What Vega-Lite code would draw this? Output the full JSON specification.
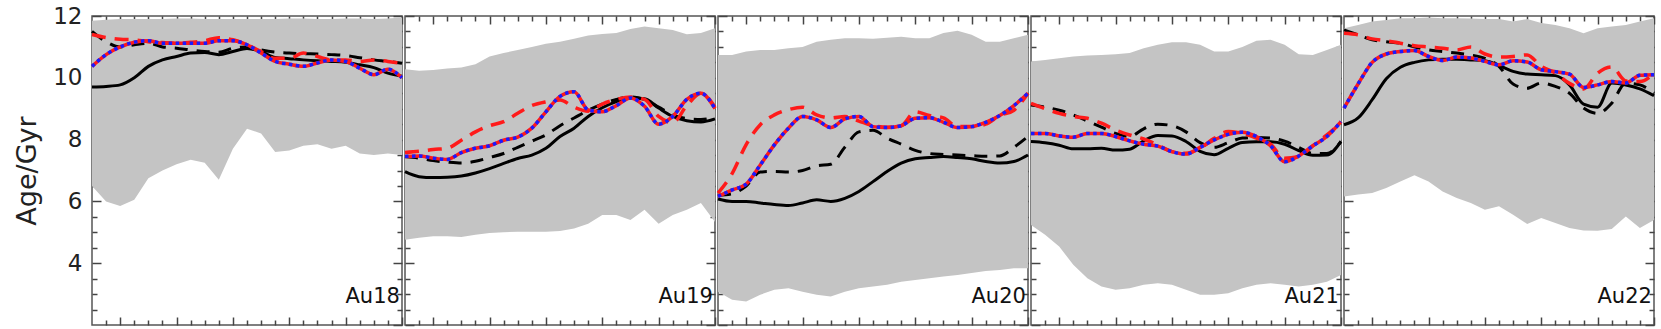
{
"$schema": "https://vega.github.io/schema/vega-lite/v6.json",
"padding": {"left": 12, "top": 4, "right": 0, "bottom": 0},
"background": "white",
"spacing": 3,
"bounds": "flush",
"data": {"values": [
{"p":"Au18","x":0,"lo":6.5,"hi":11.85,"bs":9.7,"bd":11.5,"rd":11.4,"rb":10.37},
{"p":"Au18","x":1,"lo":6.0,"hi":11.88,"bs":9.72,"bd":11.17,"rd":11.3,"rb":10.75},
{"p":"Au18","x":2,"lo":5.85,"hi":11.9,"bs":9.77,"bd":11.0,"rd":11.25,"rb":11.0},
{"p":"Au18","x":3,"lo":6.05,"hi":11.9,"bs":10.0,"bd":11.07,"rd":11.23,"rb":11.15},
{"p":"Au18","x":4,"lo":6.75,"hi":11.9,"bs":10.37,"bd":11.12,"rd":11.17,"rb":11.2},
{"p":"Au18","x":5,"lo":7.0,"hi":11.9,"bs":10.58,"bd":11.0,"rd":11.14,"rb":11.12},
{"p":"Au18","x":6,"lo":7.2,"hi":11.92,"bs":10.69,"bd":10.96,"rd":11.12,"rb":11.12},
{"p":"Au18","x":7,"lo":7.35,"hi":11.92,"bs":10.8,"bd":10.9,"rd":11.15,"rb":11.12},
{"p":"Au18","x":8,"lo":7.25,"hi":11.9,"bs":10.82,"bd":10.85,"rd":11.2,"rb":11.12},
{"p":"Au18","x":9,"lo":6.7,"hi":11.9,"bs":10.75,"bd":10.83,"rd":11.3,"rb":11.2},
{"p":"Au18","x":10,"lo":7.7,"hi":11.9,"bs":10.85,"bd":10.96,"rd":11.23,"rb":11.2},
{"p":"Au18","x":11,"lo":8.35,"hi":11.9,"bs":10.95,"bd":11.0,"rd":11.07,"rb":11.07},
{"p":"Au18","x":12,"lo":8.2,"hi":11.9,"bs":10.85,"bd":10.9,"rd":10.85,"rb":10.8},
{"p":"Au18","x":13,"lo":7.6,"hi":11.9,"bs":10.66,"bd":10.83,"rd":10.63,"rb":10.53},
{"p":"Au18","x":14,"lo":7.65,"hi":11.92,"bs":10.62,"bd":10.8,"rd":10.63,"rb":10.44},
{"p":"Au18","x":15,"lo":7.8,"hi":11.92,"bs":10.58,"bd":10.78,"rd":10.8,"rb":10.37},
{"p":"Au18","x":16,"lo":7.85,"hi":11.9,"bs":10.55,"bd":10.77,"rd":10.69,"rb":10.48},
{"p":"Au18","x":17,"lo":7.7,"hi":11.9,"bs":10.53,"bd":10.75,"rd":10.58,"rb":10.58},
{"p":"Au18","x":18,"lo":7.8,"hi":11.92,"bs":10.5,"bd":10.72,"rd":10.58,"rb":10.53},
{"p":"Au18","x":19,"lo":7.55,"hi":11.92,"bs":10.42,"bd":10.65,"rd":10.53,"rb":10.31},
{"p":"Au18","x":20,"lo":7.5,"hi":11.9,"bs":10.33,"bd":10.58,"rd":10.58,"rb":10.1},
{"p":"Au18","x":21,"lo":7.55,"hi":11.92,"bs":10.15,"bd":10.53,"rd":10.53,"rb":10.28},
{"p":"Au18","x":22,"lo":7.5,"hi":11.95,"bs":10.05,"bd":10.47,"rd":10.47,"rb":10.0},
{"p":"Au19","x":0,"lo":4.76,"hi":10.28,"bs":6.96,"bd":7.45,"rd":7.58,"rb":7.45},
{"p":"Au19","x":1,"lo":4.82,"hi":10.23,"bs":6.8,"bd":7.4,"rd":7.62,"rb":7.47},
{"p":"Au19","x":2,"lo":4.87,"hi":10.25,"bs":6.77,"bd":7.32,"rd":7.68,"rb":7.4},
{"p":"Au19","x":3,"lo":4.87,"hi":10.3,"bs":6.78,"bd":7.27,"rd":7.72,"rb":7.36},
{"p":"Au19","x":4,"lo":4.85,"hi":10.33,"bs":6.82,"bd":7.24,"rd":7.98,"rb":7.58},
{"p":"Au19","x":5,"lo":4.92,"hi":10.44,"bs":6.92,"bd":7.3,"rd":8.25,"rb":7.72},
{"p":"Au19","x":6,"lo":4.98,"hi":10.69,"bs":7.06,"bd":7.42,"rd":8.45,"rb":7.8},
{"p":"Au19","x":7,"lo":5.0,"hi":10.8,"bs":7.23,"bd":7.55,"rd":8.58,"rb":7.98},
{"p":"Au19","x":8,"lo":5.02,"hi":10.9,"bs":7.39,"bd":7.75,"rd":8.85,"rb":8.08},
{"p":"Au19","x":9,"lo":5.02,"hi":11.0,"bs":7.5,"bd":7.95,"rd":9.1,"rb":8.37},
{"p":"Au19","x":10,"lo":5.02,"hi":11.1,"bs":7.72,"bd":8.15,"rd":9.22,"rb":8.9},
{"p":"Au19","x":11,"lo":5.04,"hi":11.17,"bs":8.1,"bd":8.45,"rd":9.28,"rb":9.4},
{"p":"Au19","x":12,"lo":5.12,"hi":11.26,"bs":8.37,"bd":8.7,"rd":9.05,"rb":9.55},
{"p":"Au19","x":13,"lo":5.28,"hi":11.37,"bs":8.75,"bd":8.95,"rd":8.92,"rb":8.96},
{"p":"Au19","x":14,"lo":5.56,"hi":11.42,"bs":9.03,"bd":9.15,"rd":9.15,"rb":8.9},
{"p":"Au19","x":15,"lo":5.56,"hi":11.45,"bs":9.23,"bd":9.3,"rd":9.3,"rb":9.1},
{"p":"Au19","x":16,"lo":5.4,"hi":11.58,"bs":9.34,"bd":9.38,"rd":9.38,"rb":9.35},
{"p":"Au19","x":17,"lo":5.73,"hi":11.66,"bs":9.32,"bd":9.3,"rd":9.3,"rb":9.08},
{"p":"Au19","x":18,"lo":5.28,"hi":11.6,"bs":9.02,"bd":9.05,"rd":8.75,"rb":8.5},
{"p":"Au19","x":19,"lo":5.56,"hi":11.55,"bs":8.75,"bd":8.8,"rd":8.55,"rb":8.75},
{"p":"Au19","x":20,"lo":5.73,"hi":11.41,"bs":8.61,"bd":8.68,"rd":9.1,"rb":9.3},
{"p":"Au19","x":21,"lo":5.95,"hi":11.45,"bs":8.57,"bd":8.65,"rd":9.5,"rb":9.5},
{"p":"Au19","x":22,"lo":5.33,"hi":11.6,"bs":8.67,"bd":8.72,"rd":9.05,"rb":9.0},
{"p":"Au20","x":0,"lo":3.08,"hi":10.74,"bs":6.08,"bd":6.2,"rd":6.27,"rb":6.16},
{"p":"Au20","x":1,"lo":2.82,"hi":10.74,"bs":6.0,"bd":6.25,"rd":6.9,"rb":6.37},
{"p":"Au20","x":2,"lo":2.76,"hi":10.85,"bs":6.0,"bd":6.5,"rd":7.84,"rb":6.56},
{"p":"Au20","x":3,"lo":2.98,"hi":10.9,"bs":5.95,"bd":6.95,"rd":8.48,"rb":7.18},
{"p":"Au20","x":4,"lo":3.14,"hi":10.9,"bs":5.9,"bd":6.97,"rd":8.8,"rb":7.83},
{"p":"Au20","x":5,"lo":3.19,"hi":10.96,"bs":5.87,"bd":6.95,"rd":8.97,"rb":8.37},
{"p":"Au20","x":6,"lo":3.08,"hi":11.0,"bs":5.95,"bd":7.0,"rd":9.05,"rb":8.75},
{"p":"Au20","x":7,"lo":2.98,"hi":11.17,"bs":6.05,"bd":7.15,"rd":8.8,"rb":8.64},
{"p":"Au20","x":8,"lo":2.92,"hi":11.23,"bs":6.0,"bd":7.2,"rd":8.7,"rb":8.39},
{"p":"Au20","x":9,"lo":3.08,"hi":11.28,"bs":6.1,"bd":7.75,"rd":8.75,"rb":8.67},
{"p":"Au20","x":10,"lo":3.19,"hi":11.28,"bs":6.32,"bd":8.25,"rd":8.6,"rb":8.75},
{"p":"Au20","x":11,"lo":3.25,"hi":11.26,"bs":6.64,"bd":8.3,"rd":8.45,"rb":8.42},
{"p":"Au20","x":12,"lo":3.3,"hi":11.3,"bs":6.97,"bd":8.05,"rd":8.4,"rb":8.39},
{"p":"Au20","x":13,"lo":3.4,"hi":11.33,"bs":7.24,"bd":7.85,"rd":8.45,"rb":8.45},
{"p":"Au20","x":14,"lo":3.46,"hi":11.28,"bs":7.38,"bd":7.65,"rd":8.9,"rb":8.69},
{"p":"Au20","x":15,"lo":3.51,"hi":11.28,"bs":7.42,"bd":7.55,"rd":8.78,"rb":8.71},
{"p":"Au20","x":16,"lo":3.57,"hi":11.45,"bs":7.45,"bd":7.52,"rd":8.7,"rb":8.56},
{"p":"Au20","x":17,"lo":3.62,"hi":11.52,"bs":7.42,"bd":7.5,"rd":8.42,"rb":8.39},
{"p":"Au20","x":18,"lo":3.68,"hi":11.39,"bs":7.38,"bd":7.48,"rd":8.42,"rb":8.42},
{"p":"Au20","x":19,"lo":3.75,"hi":11.17,"bs":7.29,"bd":7.46,"rd":8.5,"rb":8.56},
{"p":"Au20","x":20,"lo":3.78,"hi":11.17,"bs":7.24,"bd":7.47,"rd":8.78,"rb":8.78},
{"p":"Au20","x":21,"lo":3.84,"hi":11.28,"bs":7.29,"bd":7.75,"rd":8.95,"rb":9.1},
{"p":"Au20","x":22,"lo":3.84,"hi":11.39,"bs":7.5,"bd":8.1,"rd":9.5,"rb":9.5},
{"p":"Au21","x":0,"lo":5.24,"hi":10.53,"bs":7.94,"bd":9.12,"rd":9.17,"rb":8.2},
{"p":"Au21","x":1,"lo":4.92,"hi":10.58,"bs":7.9,"bd":9.05,"rd":9.0,"rb":8.2},
{"p":"Au21","x":2,"lo":4.54,"hi":10.63,"bs":7.82,"bd":8.95,"rd":8.85,"rb":8.12},
{"p":"Au21","x":3,"lo":3.95,"hi":10.69,"bs":7.7,"bd":8.8,"rd":8.75,"rb":8.08},
{"p":"Au21","x":4,"lo":3.51,"hi":10.72,"bs":7.7,"bd":8.6,"rd":8.69,"rb":8.2},
{"p":"Au21","x":5,"lo":3.25,"hi":10.74,"bs":7.72,"bd":8.4,"rd":8.53,"rb":8.2},
{"p":"Au21","x":6,"lo":3.14,"hi":10.76,"bs":7.66,"bd":8.2,"rd":8.31,"rb":8.1},
{"p":"Au21","x":7,"lo":3.19,"hi":10.8,"bs":7.69,"bd":8.1,"rd":8.15,"rb":7.96},
{"p":"Au21","x":8,"lo":3.3,"hi":10.96,"bs":7.96,"bd":8.35,"rd":8.02,"rb":7.85},
{"p":"Au21","x":9,"lo":3.35,"hi":11.07,"bs":8.13,"bd":8.5,"rd":7.83,"rb":7.79},
{"p":"Au21","x":10,"lo":3.3,"hi":11.15,"bs":8.12,"bd":8.45,"rd":7.61,"rb":7.61},
{"p":"Au21","x":11,"lo":3.14,"hi":11.15,"bs":7.94,"bd":8.25,"rd":7.56,"rb":7.53},
{"p":"Au21","x":12,"lo":2.98,"hi":11.07,"bs":7.62,"bd":7.9,"rd":7.72,"rb":7.75},
{"p":"Au21","x":13,"lo":2.98,"hi":10.85,"bs":7.51,"bd":7.75,"rd":8.04,"rb":7.99},
{"p":"Au21","x":14,"lo":3.03,"hi":10.85,"bs":7.72,"bd":7.9,"rd":8.26,"rb":8.17},
{"p":"Au21","x":15,"lo":3.19,"hi":11.0,"bs":7.91,"bd":8.05,"rd":8.2,"rb":8.24},
{"p":"Au21","x":16,"lo":3.3,"hi":11.2,"bs":7.93,"bd":8.07,"rd":8.05,"rb":8.1},
{"p":"Au21","x":17,"lo":3.35,"hi":11.23,"bs":7.93,"bd":8.05,"rd":7.85,"rb":7.8},
{"p":"Au21","x":18,"lo":3.3,"hi":11.07,"bs":7.85,"bd":7.95,"rd":7.4,"rb":7.28},
{"p":"Au21","x":19,"lo":3.25,"hi":10.76,"bs":7.64,"bd":7.75,"rd":7.45,"rb":7.47},
{"p":"Au21","x":20,"lo":3.3,"hi":10.74,"bs":7.49,"bd":7.55,"rd":7.8,"rb":7.8},
{"p":"Au21","x":21,"lo":3.4,"hi":10.9,"bs":7.5,"bd":7.55,"rd":8.15,"rb":8.1},
{"p":"Au21","x":22,"lo":3.62,"hi":11.07,"bs":7.94,"bd":7.94,"rd":8.55,"rb":8.58},
{"p":"Au22","x":0,"lo":6.16,"hi":11.6,"bs":8.48,"bd":11.55,"rd":11.44,"rb":9.02},
{"p":"Au22","x":1,"lo":6.22,"hi":11.71,"bs":8.7,"bd":11.39,"rd":11.39,"rb":9.8},
{"p":"Au22","x":2,"lo":6.27,"hi":11.82,"bs":9.29,"bd":11.23,"rd":11.26,"rb":10.5},
{"p":"Au22","x":3,"lo":6.43,"hi":11.87,"bs":9.97,"bd":11.17,"rd":11.2,"rb":10.77},
{"p":"Au22","x":4,"lo":6.64,"hi":11.93,"bs":10.34,"bd":11.12,"rd":11.12,"rb":10.85},
{"p":"Au22","x":5,"lo":6.85,"hi":11.93,"bs":10.5,"bd":11.0,"rd":11.04,"rb":10.88},
{"p":"Au22","x":6,"lo":6.64,"hi":11.95,"bs":10.58,"bd":10.9,"rd":11.0,"rb":10.69},
{"p":"Au22","x":7,"lo":6.32,"hi":11.93,"bs":10.6,"bd":10.85,"rd":10.96,"rb":10.56},
{"p":"Au22","x":8,"lo":6.11,"hi":11.93,"bs":10.6,"bd":10.8,"rd":10.9,"rb":10.67},
{"p":"Au22","x":9,"lo":5.95,"hi":11.92,"bs":10.58,"bd":10.74,"rd":11.0,"rb":10.64},
{"p":"Au22","x":10,"lo":5.73,"hi":11.9,"bs":10.55,"bd":10.63,"rd":10.77,"rb":10.53},
{"p":"Au22","x":11,"lo":5.84,"hi":11.9,"bs":10.4,"bd":10.37,"rd":10.67,"rb":10.42},
{"p":"Au22","x":12,"lo":5.57,"hi":11.82,"bs":10.21,"bd":9.8,"rd":10.69,"rb":10.55},
{"p":"Au22","x":13,"lo":5.27,"hi":11.9,"bs":10.12,"bd":9.66,"rd":10.74,"rb":10.51},
{"p":"Au22","x":14,"lo":5.46,"hi":11.77,"bs":10.1,"bd":9.83,"rd":10.37,"rb":10.26},
{"p":"Au22","x":15,"lo":5.3,"hi":11.71,"bs":10.07,"bd":9.72,"rd":10.15,"rb":10.2},
{"p":"Au22","x":16,"lo":5.14,"hi":11.6,"bs":9.77,"bd":9.5,"rd":9.82,"rb":10.12},
{"p":"Au22","x":17,"lo":5.06,"hi":11.44,"bs":9.15,"bd":9.02,"rd":9.64,"rb":9.69},
{"p":"Au22","x":18,"lo":5.05,"hi":11.6,"bs":9.05,"bd":8.85,"rd":10.15,"rb":9.77},
{"p":"Au22","x":19,"lo":5.11,"hi":11.66,"bs":9.83,"bd":9.18,"rd":10.35,"rb":9.88},
{"p":"Au22","x":20,"lo":5.51,"hi":11.71,"bs":9.77,"bd":9.83,"rd":9.9,"rb":9.83},
{"p":"Au22","x":21,"lo":5.14,"hi":11.82,"bs":9.64,"bd":9.77,"rd":9.88,"rb":10.08},
{"p":"Au22","x":22,"lo":5.4,"hi":11.93,"bs":9.42,"bd":9.5,"rd":10.15,"rb":10.1}
]},
"hconcat": [
{"width": 310, "height": 309, "transform": [{"filter": "datum.p == 'Au18'"}],
 "layer": [
  {"mark": {"type": "area", "color": "#c4c4c4"}, "encoding": {
    "x": {"field": "x", "type": "quantitative", "scale": {"domain": [0, 22], "nice": false, "zero": false}, "axis": {"orient": "bottom", "values": [2, 6, 10, 14, 18, 22], "tickSize": -8, "title": null}},
    "y": {"field": "lo", "type": "quantitative", "scale": {"domain": [2, 12], "nice": false, "zero": false}, "axis": {"orient": "left", "values": [4, 6, 8, 10, 12], "tickSize": -9, "labels": true, "labelFont": "DejaVu Sans", "labelFontSize": 23, "labelColor": "#222", "labelPadding": 19, "title": "Age/Gyr", "titleFont": "DejaVu Sans", "titleFontSize": 27, "titleFontWeight": "normal", "titleColor": "#222", "titlePadding": 11}},
    "y2": {"field": "hi"}}},
  {"mark": {"type": "line", "color": "#000", "strokeWidth": 3, "interpolate": "monotone"}, "encoding": {
    "x": {"field": "x", "type": "quantitative", "scale": {"domain": [0, 22], "nice": false, "zero": false}, "axis": {"orient": "top", "values": [2, 6, 10, 14, 18, 22], "tickSize": -8, "title": null}},
    "y": {"field": "bs", "type": "quantitative", "scale": {"domain": [2, 12], "nice": false, "zero": false}, "axis": {"orient": "right", "values": [2, 4, 6, 8, 10, 12], "tickSize": -9, "title": null}}}},
  {"mark": {"type": "line", "color": "#000", "strokeWidth": 3, "strokeDash": [13, 9], "interpolate": "monotone"}, "encoding": {
    "x": {"field": "x", "type": "quantitative", "scale": {"domain": [0, 22], "nice": false, "zero": false}, "axis": {"orient": "bottom", "values": [1, 3, 4, 5, 7, 8, 9, 11, 12, 13, 15, 16, 17, 19, 20, 21], "tickSize": -5, "title": null}},
    "y": {"field": "bd", "type": "quantitative", "scale": {"domain": [2, 12], "nice": false, "zero": false}, "axis": {"orient": "left", "values": [2.5, 3, 3.5, 4.5, 5, 5.5, 6.5, 7, 7.5, 8.5, 9, 9.5, 10.5, 11, 11.5], "tickSize": -5, "title": null}}}},
  {"mark": {"type": "line", "color": "#ff1a1a", "strokeWidth": 3.5, "strokeDash": [14, 9], "interpolate": "monotone"}, "encoding": {
    "x": {"field": "x", "type": "quantitative", "scale": {"domain": [0, 22], "nice": false, "zero": false}, "axis": {"orient": "top", "values": [1, 3, 4, 5, 7, 8, 9, 11, 12, 13, 15, 16, 17, 19, 20, 21], "tickSize": -5, "title": null}},
    "y": {"field": "rd", "type": "quantitative", "scale": {"domain": [2, 12], "nice": false, "zero": false}, "axis": {"orient": "right", "values": [2.5, 3, 3.5, 4.5, 5, 5.5, 6.5, 7, 7.5, 8.5, 9, 9.5, 10.5, 11, 11.5], "tickSize": -5, "title": null}}}},
  {"mark": {"type": "line", "color": "#ff1a1a", "strokeWidth": 3.5, "interpolate": "monotone"}, "encoding": {
    "x": {"field": "x", "type": "quantitative", "scale": {"domain": [0, 22], "nice": false, "zero": false}, "axis": null},
    "y": {"field": "rb", "type": "quantitative", "scale": {"domain": [2, 12], "nice": false, "zero": false}, "axis": null}}},
  {"mark": {"type": "line", "color": "#1a1aff", "strokeWidth": 3.5, "strokeDash": [3.5, 3.5], "strokeCap": "butt", "interpolate": "monotone"}, "encoding": {
    "x": {"field": "x", "type": "quantitative", "scale": {"domain": [0, 22], "nice": false, "zero": false}, "axis": null},
    "y": {"field": "rb", "type": "quantitative", "scale": {"domain": [2, 12], "nice": false, "zero": false}, "axis": null}}},
  {"data": {"values": [{"p": "Au18", "t": "Au18"}]}, "mark": {"type": "text", "align": "right", "baseline": "alphabetic", "font": "DejaVu Sans", "fontSize": 21, "color": "#111"}, "encoding": {
    "x": {"datum": 21.85, "type": "quantitative", "scale": {"domain": [0, 22], "nice": false, "zero": false}, "axis": null},
    "y": {"datum": 2.7, "type": "quantitative", "scale": {"domain": [2, 12], "nice": false, "zero": false}, "axis": null},
    "text": {"field": "t"}}}
 ],
 "resolve": {"axis": {"x": "independent", "y": "independent"}}},
{"width": 310, "height": 309, "transform": [{"filter": "datum.p == 'Au19'"}],
 "layer": [
  {"mark": {"type": "area", "color": "#c4c4c4"}, "encoding": {
    "x": {"field": "x", "type": "quantitative", "scale": {"domain": [0, 22], "nice": false, "zero": false}, "axis": {"orient": "bottom", "values": [2, 6, 10, 14, 18, 22], "tickSize": -8, "title": null}},
    "y": {"field": "lo", "type": "quantitative", "scale": {"domain": [2, 12], "nice": false, "zero": false}, "axis": {"orient": "left", "values": [2, 4, 6, 8, 10, 12], "tickSize": -9, "title": null}},
    "y2": {"field": "hi"}}},
  {"mark": {"type": "line", "color": "#000", "strokeWidth": 3, "interpolate": "monotone"}, "encoding": {
    "x": {"field": "x", "type": "quantitative", "scale": {"domain": [0, 22], "nice": false, "zero": false}, "axis": {"orient": "top", "values": [2, 6, 10, 14, 18, 22], "tickSize": -8, "title": null}},
    "y": {"field": "bs", "type": "quantitative", "scale": {"domain": [2, 12], "nice": false, "zero": false}, "axis": {"orient": "right", "values": [2, 4, 6, 8, 10, 12], "tickSize": -9, "title": null}}}},
  {"mark": {"type": "line", "color": "#000", "strokeWidth": 3, "strokeDash": [13, 9], "interpolate": "monotone"}, "encoding": {
    "x": {"field": "x", "type": "quantitative", "scale": {"domain": [0, 22], "nice": false, "zero": false}, "axis": {"orient": "bottom", "values": [1, 3, 4, 5, 7, 8, 9, 11, 12, 13, 15, 16, 17, 19, 20, 21], "tickSize": -5, "title": null}},
    "y": {"field": "bd", "type": "quantitative", "scale": {"domain": [2, 12], "nice": false, "zero": false}, "axis": {"orient": "left", "values": [2.5, 3, 3.5, 4.5, 5, 5.5, 6.5, 7, 7.5, 8.5, 9, 9.5, 10.5, 11, 11.5], "tickSize": -5, "title": null}}}},
  {"mark": {"type": "line", "color": "#ff1a1a", "strokeWidth": 3.5, "strokeDash": [14, 9], "interpolate": "monotone"}, "encoding": {
    "x": {"field": "x", "type": "quantitative", "scale": {"domain": [0, 22], "nice": false, "zero": false}, "axis": {"orient": "top", "values": [1, 3, 4, 5, 7, 8, 9, 11, 12, 13, 15, 16, 17, 19, 20, 21], "tickSize": -5, "title": null}},
    "y": {"field": "rd", "type": "quantitative", "scale": {"domain": [2, 12], "nice": false, "zero": false}, "axis": {"orient": "right", "values": [2.5, 3, 3.5, 4.5, 5, 5.5, 6.5, 7, 7.5, 8.5, 9, 9.5, 10.5, 11, 11.5], "tickSize": -5, "title": null}}}},
  {"mark": {"type": "line", "color": "#ff1a1a", "strokeWidth": 3.5, "interpolate": "monotone"}, "encoding": {
    "x": {"field": "x", "type": "quantitative", "scale": {"domain": [0, 22], "nice": false, "zero": false}, "axis": null},
    "y": {"field": "rb", "type": "quantitative", "scale": {"domain": [2, 12], "nice": false, "zero": false}, "axis": null}}},
  {"mark": {"type": "line", "color": "#1a1aff", "strokeWidth": 3.5, "strokeDash": [3.5, 3.5], "strokeCap": "butt", "interpolate": "monotone"}, "encoding": {
    "x": {"field": "x", "type": "quantitative", "scale": {"domain": [0, 22], "nice": false, "zero": false}, "axis": null},
    "y": {"field": "rb", "type": "quantitative", "scale": {"domain": [2, 12], "nice": false, "zero": false}, "axis": null}}},
  {"data": {"values": [{"p": "Au19", "t": "Au19"}]}, "mark": {"type": "text", "align": "right", "baseline": "alphabetic", "font": "DejaVu Sans", "fontSize": 21, "color": "#111"}, "encoding": {
    "x": {"datum": 21.85, "type": "quantitative", "scale": {"domain": [0, 22], "nice": false, "zero": false}, "axis": null},
    "y": {"datum": 2.7, "type": "quantitative", "scale": {"domain": [2, 12], "nice": false, "zero": false}, "axis": null},
    "text": {"field": "t"}}}
 ],
 "resolve": {"axis": {"x": "independent", "y": "independent"}}},
{"width": 310, "height": 309, "transform": [{"filter": "datum.p == 'Au20'"}],
 "layer": [
  {"mark": {"type": "area", "color": "#c4c4c4"}, "encoding": {
    "x": {"field": "x", "type": "quantitative", "scale": {"domain": [0, 22], "nice": false, "zero": false}, "axis": {"orient": "bottom", "values": [2, 6, 10, 14, 18, 22], "tickSize": -8, "title": null}},
    "y": {"field": "lo", "type": "quantitative", "scale": {"domain": [2, 12], "nice": false, "zero": false}, "axis": {"orient": "left", "values": [2, 4, 6, 8, 10, 12], "tickSize": -9, "title": null}},
    "y2": {"field": "hi"}}},
  {"mark": {"type": "line", "color": "#000", "strokeWidth": 3, "interpolate": "monotone"}, "encoding": {
    "x": {"field": "x", "type": "quantitative", "scale": {"domain": [0, 22], "nice": false, "zero": false}, "axis": {"orient": "top", "values": [2, 6, 10, 14, 18, 22], "tickSize": -8, "title": null}},
    "y": {"field": "bs", "type": "quantitative", "scale": {"domain": [2, 12], "nice": false, "zero": false}, "axis": {"orient": "right", "values": [2, 4, 6, 8, 10, 12], "tickSize": -9, "title": null}}}},
  {"mark": {"type": "line", "color": "#000", "strokeWidth": 3, "strokeDash": [13, 9], "interpolate": "monotone"}, "encoding": {
    "x": {"field": "x", "type": "quantitative", "scale": {"domain": [0, 22], "nice": false, "zero": false}, "axis": {"orient": "bottom", "values": [1, 3, 4, 5, 7, 8, 9, 11, 12, 13, 15, 16, 17, 19, 20, 21], "tickSize": -5, "title": null}},
    "y": {"field": "bd", "type": "quantitative", "scale": {"domain": [2, 12], "nice": false, "zero": false}, "axis": {"orient": "left", "values": [2.5, 3, 3.5, 4.5, 5, 5.5, 6.5, 7, 7.5, 8.5, 9, 9.5, 10.5, 11, 11.5], "tickSize": -5, "title": null}}}},
  {"mark": {"type": "line", "color": "#ff1a1a", "strokeWidth": 3.5, "strokeDash": [14, 9], "interpolate": "monotone"}, "encoding": {
    "x": {"field": "x", "type": "quantitative", "scale": {"domain": [0, 22], "nice": false, "zero": false}, "axis": {"orient": "top", "values": [1, 3, 4, 5, 7, 8, 9, 11, 12, 13, 15, 16, 17, 19, 20, 21], "tickSize": -5, "title": null}},
    "y": {"field": "rd", "type": "quantitative", "scale": {"domain": [2, 12], "nice": false, "zero": false}, "axis": {"orient": "right", "values": [2.5, 3, 3.5, 4.5, 5, 5.5, 6.5, 7, 7.5, 8.5, 9, 9.5, 10.5, 11, 11.5], "tickSize": -5, "title": null}}}},
  {"mark": {"type": "line", "color": "#ff1a1a", "strokeWidth": 3.5, "interpolate": "monotone"}, "encoding": {
    "x": {"field": "x", "type": "quantitative", "scale": {"domain": [0, 22], "nice": false, "zero": false}, "axis": null},
    "y": {"field": "rb", "type": "quantitative", "scale": {"domain": [2, 12], "nice": false, "zero": false}, "axis": null}}},
  {"mark": {"type": "line", "color": "#1a1aff", "strokeWidth": 3.5, "strokeDash": [3.5, 3.5], "strokeCap": "butt", "interpolate": "monotone"}, "encoding": {
    "x": {"field": "x", "type": "quantitative", "scale": {"domain": [0, 22], "nice": false, "zero": false}, "axis": null},
    "y": {"field": "rb", "type": "quantitative", "scale": {"domain": [2, 12], "nice": false, "zero": false}, "axis": null}}},
  {"data": {"values": [{"p": "Au20", "t": "Au20"}]}, "mark": {"type": "text", "align": "right", "baseline": "alphabetic", "font": "DejaVu Sans", "fontSize": 21, "color": "#111"}, "encoding": {
    "x": {"datum": 21.85, "type": "quantitative", "scale": {"domain": [0, 22], "nice": false, "zero": false}, "axis": null},
    "y": {"datum": 2.7, "type": "quantitative", "scale": {"domain": [2, 12], "nice": false, "zero": false}, "axis": null},
    "text": {"field": "t"}}}
 ],
 "resolve": {"axis": {"x": "independent", "y": "independent"}}},
{"width": 310, "height": 309, "transform": [{"filter": "datum.p == 'Au21'"}],
 "layer": [
  {"mark": {"type": "area", "color": "#c4c4c4"}, "encoding": {
    "x": {"field": "x", "type": "quantitative", "scale": {"domain": [0, 22], "nice": false, "zero": false}, "axis": {"orient": "bottom", "values": [2, 6, 10, 14, 18, 22], "tickSize": -8, "title": null}},
    "y": {"field": "lo", "type": "quantitative", "scale": {"domain": [2, 12], "nice": false, "zero": false}, "axis": {"orient": "left", "values": [2, 4, 6, 8, 10, 12], "tickSize": -9, "title": null}},
    "y2": {"field": "hi"}}},
  {"mark": {"type": "line", "color": "#000", "strokeWidth": 3, "interpolate": "monotone"}, "encoding": {
    "x": {"field": "x", "type": "quantitative", "scale": {"domain": [0, 22], "nice": false, "zero": false}, "axis": {"orient": "top", "values": [2, 6, 10, 14, 18, 22], "tickSize": -8, "title": null}},
    "y": {"field": "bs", "type": "quantitative", "scale": {"domain": [2, 12], "nice": false, "zero": false}, "axis": {"orient": "right", "values": [2, 4, 6, 8, 10, 12], "tickSize": -9, "title": null}}}},
  {"mark": {"type": "line", "color": "#000", "strokeWidth": 3, "strokeDash": [13, 9], "interpolate": "monotone"}, "encoding": {
    "x": {"field": "x", "type": "quantitative", "scale": {"domain": [0, 22], "nice": false, "zero": false}, "axis": {"orient": "bottom", "values": [1, 3, 4, 5, 7, 8, 9, 11, 12, 13, 15, 16, 17, 19, 20, 21], "tickSize": -5, "title": null}},
    "y": {"field": "bd", "type": "quantitative", "scale": {"domain": [2, 12], "nice": false, "zero": false}, "axis": {"orient": "left", "values": [2.5, 3, 3.5, 4.5, 5, 5.5, 6.5, 7, 7.5, 8.5, 9, 9.5, 10.5, 11, 11.5], "tickSize": -5, "title": null}}}},
  {"mark": {"type": "line", "color": "#ff1a1a", "strokeWidth": 3.5, "strokeDash": [14, 9], "interpolate": "monotone"}, "encoding": {
    "x": {"field": "x", "type": "quantitative", "scale": {"domain": [0, 22], "nice": false, "zero": false}, "axis": {"orient": "top", "values": [1, 3, 4, 5, 7, 8, 9, 11, 12, 13, 15, 16, 17, 19, 20, 21], "tickSize": -5, "title": null}},
    "y": {"field": "rd", "type": "quantitative", "scale": {"domain": [2, 12], "nice": false, "zero": false}, "axis": {"orient": "right", "values": [2.5, 3, 3.5, 4.5, 5, 5.5, 6.5, 7, 7.5, 8.5, 9, 9.5, 10.5, 11, 11.5], "tickSize": -5, "title": null}}}},
  {"mark": {"type": "line", "color": "#ff1a1a", "strokeWidth": 3.5, "interpolate": "monotone"}, "encoding": {
    "x": {"field": "x", "type": "quantitative", "scale": {"domain": [0, 22], "nice": false, "zero": false}, "axis": null},
    "y": {"field": "rb", "type": "quantitative", "scale": {"domain": [2, 12], "nice": false, "zero": false}, "axis": null}}},
  {"mark": {"type": "line", "color": "#1a1aff", "strokeWidth": 3.5, "strokeDash": [3.5, 3.5], "strokeCap": "butt", "interpolate": "monotone"}, "encoding": {
    "x": {"field": "x", "type": "quantitative", "scale": {"domain": [0, 22], "nice": false, "zero": false}, "axis": null},
    "y": {"field": "rb", "type": "quantitative", "scale": {"domain": [2, 12], "nice": false, "zero": false}, "axis": null}}},
  {"data": {"values": [{"p": "Au21", "t": "Au21"}]}, "mark": {"type": "text", "align": "right", "baseline": "alphabetic", "font": "DejaVu Sans", "fontSize": 21, "color": "#111"}, "encoding": {
    "x": {"datum": 21.85, "type": "quantitative", "scale": {"domain": [0, 22], "nice": false, "zero": false}, "axis": null},
    "y": {"datum": 2.7, "type": "quantitative", "scale": {"domain": [2, 12], "nice": false, "zero": false}, "axis": null},
    "text": {"field": "t"}}}
 ],
 "resolve": {"axis": {"x": "independent", "y": "independent"}}},
{"width": 310, "height": 309, "transform": [{"filter": "datum.p == 'Au22'"}],
 "layer": [
  {"mark": {"type": "area", "color": "#c4c4c4"}, "encoding": {
    "x": {"field": "x", "type": "quantitative", "scale": {"domain": [0, 22], "nice": false, "zero": false}, "axis": {"orient": "bottom", "values": [2, 6, 10, 14, 18, 22], "tickSize": -8, "title": null}},
    "y": {"field": "lo", "type": "quantitative", "scale": {"domain": [2, 12], "nice": false, "zero": false}, "axis": {"orient": "left", "values": [2, 4, 6, 8, 10, 12], "tickSize": -9, "title": null}},
    "y2": {"field": "hi"}}},
  {"mark": {"type": "line", "color": "#000", "strokeWidth": 3, "interpolate": "monotone"}, "encoding": {
    "x": {"field": "x", "type": "quantitative", "scale": {"domain": [0, 22], "nice": false, "zero": false}, "axis": {"orient": "top", "values": [2, 6, 10, 14, 18, 22], "tickSize": -8, "title": null}},
    "y": {"field": "bs", "type": "quantitative", "scale": {"domain": [2, 12], "nice": false, "zero": false}, "axis": {"orient": "right", "values": [2, 4, 6, 8, 10, 12], "tickSize": -9, "title": null}}}},
  {"mark": {"type": "line", "color": "#000", "strokeWidth": 3, "strokeDash": [13, 9], "interpolate": "monotone"}, "encoding": {
    "x": {"field": "x", "type": "quantitative", "scale": {"domain": [0, 22], "nice": false, "zero": false}, "axis": {"orient": "bottom", "values": [1, 3, 4, 5, 7, 8, 9, 11, 12, 13, 15, 16, 17, 19, 20, 21], "tickSize": -5, "title": null}},
    "y": {"field": "bd", "type": "quantitative", "scale": {"domain": [2, 12], "nice": false, "zero": false}, "axis": {"orient": "left", "values": [2.5, 3, 3.5, 4.5, 5, 5.5, 6.5, 7, 7.5, 8.5, 9, 9.5, 10.5, 11, 11.5], "tickSize": -5, "title": null}}}},
  {"mark": {"type": "line", "color": "#ff1a1a", "strokeWidth": 3.5, "strokeDash": [14, 9], "interpolate": "monotone"}, "encoding": {
    "x": {"field": "x", "type": "quantitative", "scale": {"domain": [0, 22], "nice": false, "zero": false}, "axis": {"orient": "top", "values": [1, 3, 4, 5, 7, 8, 9, 11, 12, 13, 15, 16, 17, 19, 20, 21], "tickSize": -5, "title": null}},
    "y": {"field": "rd", "type": "quantitative", "scale": {"domain": [2, 12], "nice": false, "zero": false}, "axis": {"orient": "right", "values": [2.5, 3, 3.5, 4.5, 5, 5.5, 6.5, 7, 7.5, 8.5, 9, 9.5, 10.5, 11, 11.5], "tickSize": -5, "title": null}}}},
  {"mark": {"type": "line", "color": "#ff1a1a", "strokeWidth": 3.5, "interpolate": "monotone"}, "encoding": {
    "x": {"field": "x", "type": "quantitative", "scale": {"domain": [0, 22], "nice": false, "zero": false}, "axis": null},
    "y": {"field": "rb", "type": "quantitative", "scale": {"domain": [2, 12], "nice": false, "zero": false}, "axis": null}}},
  {"mark": {"type": "line", "color": "#1a1aff", "strokeWidth": 3.5, "strokeDash": [3.5, 3.5], "strokeCap": "butt", "interpolate": "monotone"}, "encoding": {
    "x": {"field": "x", "type": "quantitative", "scale": {"domain": [0, 22], "nice": false, "zero": false}, "axis": null},
    "y": {"field": "rb", "type": "quantitative", "scale": {"domain": [2, 12], "nice": false, "zero": false}, "axis": null}}},
  {"data": {"values": [{"p": "Au22", "t": "Au22"}]}, "mark": {"type": "text", "align": "right", "baseline": "alphabetic", "font": "DejaVu Sans", "fontSize": 21, "color": "#111"}, "encoding": {
    "x": {"datum": 21.85, "type": "quantitative", "scale": {"domain": [0, 22], "nice": false, "zero": false}, "axis": null},
    "y": {"datum": 2.7, "type": "quantitative", "scale": {"domain": [2, 12], "nice": false, "zero": false}, "axis": null},
    "text": {"field": "t"}}}
 ],
 "resolve": {"axis": {"x": "independent", "y": "independent"}}}
],
"config": {"view": {"stroke": "#555", "strokeWidth": 1.5}, "axis": {"domain": false, "grid": false, "labels": false, "tickColor": "#444", "tickWidth": 1.5, "minExtent": 0, "offset": 0}}
}
